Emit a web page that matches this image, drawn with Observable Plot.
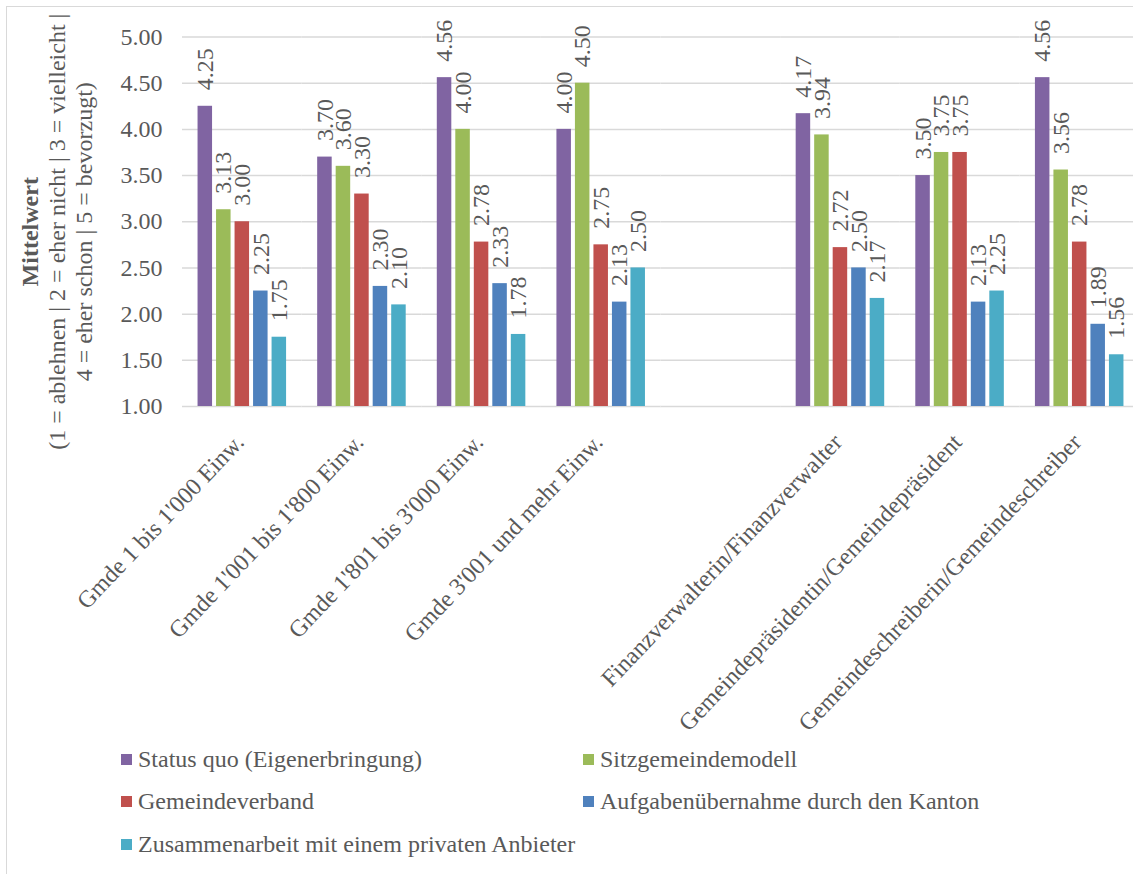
<!DOCTYPE html>
<html>
<head>
<meta charset="utf-8">
<script src="https://cdn.jsdelivr.net/npm/d3@7"></script>
<script src="https://cdn.jsdelivr.net/npm/@observablehq/plot@0.6"></script>
<style>
  html, body { margin: 0; padding: 0; background: #fff; overflow: hidden; }
  #chart { position: relative; width: 1133px; height: 874px; overflow: hidden;
           font-family: "Liberation Serif", "Times New Roman", serif; color: #595959; }
  #border { position: absolute; left: 6px; top: 6px; width: 1300px; height: 1000px;
            border-left: 1px solid #d9d9d9; border-top: 1px solid #d9d9d9; }
  #plot { position: absolute; left: 0; top: 0; width: 1139px; }
  #plot svg { max-width: none; }
  #legend { position: absolute; left: 121px; top: 738px; display: grid;
            grid-template-columns: 462px 462px; grid-auto-rows: 42.5px; font-size: 24px; }
  .item { display: flex; align-items: center; white-space: nowrap; }
  .sw { width: 11px; height: 11px; margin-right: 6px; flex: none; }
</style>
</head>
<body>
<div id="chart">
  <div id="border"></div>
  <div id="plot"></div>
  <div id="legend"></div>
</div>
<script>
// Groups: municipality size classes, then respondent roles
const categories = [
  "Gmde 1 bis 1'000 Einw.",
  "Gmde 1'001 bis 1'800 Einw.",
  "Gmde 1'801 bis 3'000 Einw.",
  "Gmde 3'001 und mehr Einw.",
  "Finanzverwalterin/Finanzverwalter",
  "Gemeindepräsidentin/Gemeindepräsident",
  "Gemeindeschreiberin/Gemeindeschreiber"
];

// Organisational models (series)
const seriesNames = [
  "Status quo (Eigenerbringung)",
  "Sitzgemeindemodell",
  "Gemeindeverband",
  "Aufgabenübernahme durch den Kanton",
  "Zusammenarbeit mit einem privaten Anbieter"
];
const seriesColors = ["#8064A2", "#9BBB59", "#C0504D", "#4F81BD", "#4BACC6"];

// Mean ratings per group, one array per model
const statusQuo    = [4.25, 3.70, 4.56, 4.00, 4.17, 3.50, 4.56];
const sitzgemeinde = [3.13, 3.60, 4.00, 4.50, 3.94, 3.75, 3.56];
const verband      = [3.00, 3.30, 2.78, 2.75, 2.72, 3.75, 2.78];
const kanton       = [2.25, 2.30, 2.33, 2.13, 2.50, 2.13, 1.89];
const privat       = [1.75, 2.10, 1.78, 2.50, 2.17, 2.25, 1.56];
const seriesValues = [statusQuo, sitzgemeinde, verband, kanton, privat];

// Value axis
const yDomain = [1, 5];
const yTicks = [1, 1.5, 2, 2.5, 3, 3.5, 4, 4.5, 5];
const yTitle = [
  "Mittelwert",
  "(1 = ablehnen | 2 = eher nicht | 3 = vielleicht |",
  "4 = eher schon | 5 = bevorzugt)"
];

// An empty slot separates the size classes from the roles
const gap = " ";
const slots = [...categories.slice(0, 4), gap, ...categories.slice(4)];

const rows = [];
categories.forEach((category, i) => {
  seriesNames.forEach((series, j) => {
    rows.push({category, series, value: seriesValues[j][i]});
  });
});

const text = "#595959";
const font = 24;

const chart = Plot.plot({
  width: 1139,
  height: 720,
  marginLeft: 182,
  marginRight: 0,
  marginTop: 36.5,
  marginBottom: 314,
  style: {fontFamily: "Liberation Serif, Times New Roman, serif", color: text, background: "transparent", overflow: "visible"},
  fx: {domain: slots, padding: 0, round: false, axis: null},
  x: {domain: seriesNames, paddingInner: 0.216, paddingOuter: 0.84, round: false, axis: null},
  y: {domain: yDomain, axis: null},
  color: {domain: seriesNames, range: seriesColors},
  marks: [
    Plot.gridY(yTicks, {stroke: "#d9d9d9", strokeOpacity: 1, strokeWidth: 1.5}),
    Plot.axisY(yTicks, {tickSize: 0, tickPadding: 20, tickFormat: d => d.toFixed(2), fontSize: font, fill: text, label: null}),
    Plot.barY(rows, {fx: "category", x: "series", y1: () => yDomain[0], y2: "value", fill: "series"}),
    Plot.text(rows, {
      fx: "category", x: "series", y: "value",
      text: d => d.value.toFixed(2),
      rotate: -90, textAnchor: "start", dy: -16,
      fontSize: font, fill: text
    }),
    // category labels below the axis
    Plot.text(slots, {
      fx: d => d, text: d => d, frameAnchor: "bottom",
      rotate: -46.5, textAnchor: "end", dx: 3, dy: 37,
      fontSize: font, fill: text
    }),
    // value-axis title
    Plot.text([yTitle[0]], {
      fx: () => slots[0], text: d => d, frameAnchor: "left",
      rotate: -90, textAnchor: "middle", lineAnchor: "bottom", dx: -145, dy: 10,
      fontSize: font, fontWeight: "bold", fill: text
    }),
    Plot.text([yTitle[1]], {
      fx: () => slots[0], text: d => d, frameAnchor: "left",
      rotate: -90, textAnchor: "middle", lineAnchor: "bottom", dx: -118, dy: 10,
      fontSize: font, fill: text
    }),
    Plot.text([yTitle[2]], {
      fx: () => slots[0], text: d => d, frameAnchor: "left",
      rotate: -90, textAnchor: "middle", lineAnchor: "bottom", dx: -91, dy: 10,
      fontSize: font, fill: text
    })
  ]
});
document.getElementById("plot").appendChild(chart);

// legend in two columns
const legend = document.getElementById("legend");
seriesNames.forEach((name, i) => {
  const item = document.createElement("div");
  item.className = "item";
  const sw = document.createElement("span");
  sw.className = "sw";
  sw.style.background = seriesColors[i];
  const label = document.createElement("span");
  label.textContent = name;
  item.appendChild(sw);
  item.appendChild(label);
  legend.appendChild(item);
});
</script>
</body>
</html>
